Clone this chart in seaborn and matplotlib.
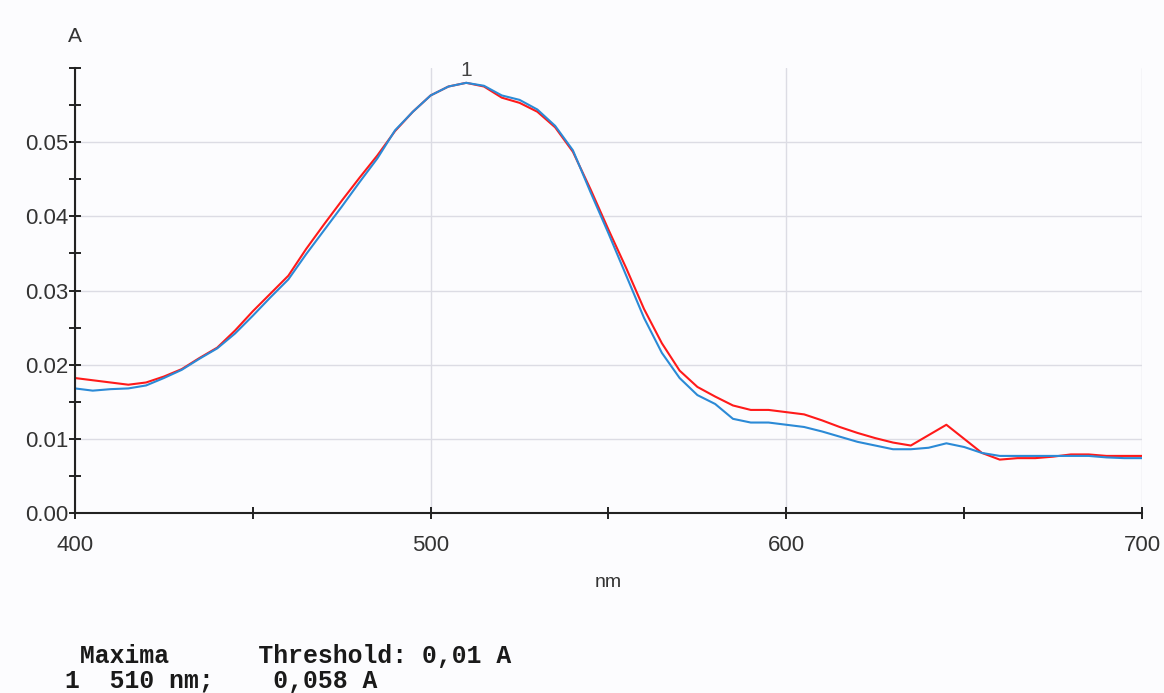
import matplotlib
matplotlib.use("Agg")
import matplotlib.pyplot as plt
from matplotlib.ticker import MultipleLocator
import seaborn as sns
import pandas as pd

wavelength = list(range(400, 705, 5))

red_abs = [
    0.0182, 0.0179, 0.0176, 0.0173, 0.0176, 0.0184, 0.0194, 0.0209, 0.0223, 0.0246,
    0.0272, 0.0296, 0.0320, 0.0356, 0.0389, 0.0421, 0.0452, 0.0482, 0.0515, 0.0541,
    0.0563, 0.0575, 0.0580, 0.0575, 0.0560, 0.0553, 0.0541, 0.0520, 0.0487, 0.0436,
    0.0382, 0.0330, 0.0275, 0.0229, 0.0192, 0.0170, 0.0157, 0.0145, 0.0139, 0.0139,
    0.0136, 0.0133, 0.0125, 0.0116, 0.0108, 0.0101, 0.0095, 0.0091, 0.0105, 0.0119,
    0.0100, 0.0081, 0.0072, 0.0074, 0.0074, 0.0076, 0.0079, 0.0079, 0.0077, 0.0077,
    0.0077,
]

blue_abs = [
    0.0168, 0.0165, 0.0167, 0.0168, 0.0172, 0.0182, 0.0193, 0.0208, 0.0222, 0.0242,
    0.0266, 0.0291, 0.0315, 0.0349, 0.0381, 0.0413, 0.0446, 0.0478, 0.0516, 0.0541,
    0.0563, 0.0575, 0.0580, 0.0576, 0.0563, 0.0557, 0.0544, 0.0522, 0.0489, 0.0432,
    0.0377, 0.0320, 0.0263, 0.0216, 0.0182, 0.0159, 0.0147, 0.0127, 0.0122, 0.0122,
    0.0119, 0.0116, 0.0110, 0.0103, 0.0096, 0.0091, 0.0086, 0.0086, 0.0088, 0.0094,
    0.0089, 0.0081, 0.0077, 0.0077, 0.0077, 0.0077, 0.0077, 0.0077, 0.0075, 0.0074,
    0.0074,
]

peak_nm = 510
peak_abs = 0.058
peak_label = "1"
x_labels = [400, 500, 600, 700]
y_labels = [0.00, 0.01, 0.02, 0.03, 0.04, 0.05]

df = pd.DataFrame({"nm": wavelength, "red": red_abs, "blue": blue_abs})

sns.set_style("white")
plt.rcParams["font.family"] = ["Liberation Sans", "DejaVu Sans"]

bg = "#fcfcfe"
fig = plt.figure(figsize=(11.64, 6.93), dpi=100, facecolor=bg)
ax = fig.add_axes([0.0644, 0.2597, 0.9167, 0.6422])
ax.set_facecolor(bg)

sns.lineplot(data=df, x="nm", y="red", color="#ff1a1a", linewidth=1.5, ax=ax)
sns.lineplot(data=df, x="nm", y="blue", color="#2b8ad6", linewidth=1.5, ax=ax)

ax.set_xlim(400, 700)
ax.set_ylim(0, 0.06)

ax.set_xticks(x_labels)
ax.set_xticklabels([str(v) for v in x_labels])
ax.xaxis.set_minor_locator(MultipleLocator(50))
ax.set_yticks(y_labels)
ax.set_yticklabels([f"{v:.2f}" for v in y_labels])
ax.yaxis.set_minor_locator(MultipleLocator(0.005))

ax.tick_params(axis="both", which="both", direction="inout", length=8, width=1.4,
               color="#222222", labelsize=16, labelcolor="#333333",
               bottom=True, left=True)
ax.tick_params(axis="x", which="major", pad=12)
ax.tick_params(axis="y", which="major", pad=1)

ax.grid(True, which="major", color="#dcdce4", linewidth=1)
for s in ["top", "right"]:
    ax.spines[s].set_visible(False)
for s in ["left", "bottom"]:
    ax.spines[s].set_color("#222222")
    ax.spines[s].set_linewidth(1.5)

ax.set_xlabel("nm", fontsize=14, color="#333333", labelpad=13)
ax.set_ylabel("")
ax.text(0, 1.05, "A", transform=ax.transAxes, fontsize=15, color="#333333",
        ha="center", va="bottom")
ax.annotate(peak_label, (peak_nm, peak_abs), xytext=(0, 2), textcoords="offset points",
            ha="center", va="bottom", fontsize=15, color="#444444")

mono = dict(family=["Liberation Mono", "DejaVu Sans Mono"], fontweight="bold",
            fontsize=17.8, color="#1a1a1a", va="baseline")
fig.text(65 / 1164, 1 - 663 / 693, " Maxima      Threshold: 0,01 A", **mono)
fig.text(65 / 1164, 1 - 688 / 693, f"{peak_label}  {peak_nm} nm;    {peak_abs:.3f} A".replace(".", ","), **mono)

fig.savefig("out.png", dpi=100, facecolor=bg)
